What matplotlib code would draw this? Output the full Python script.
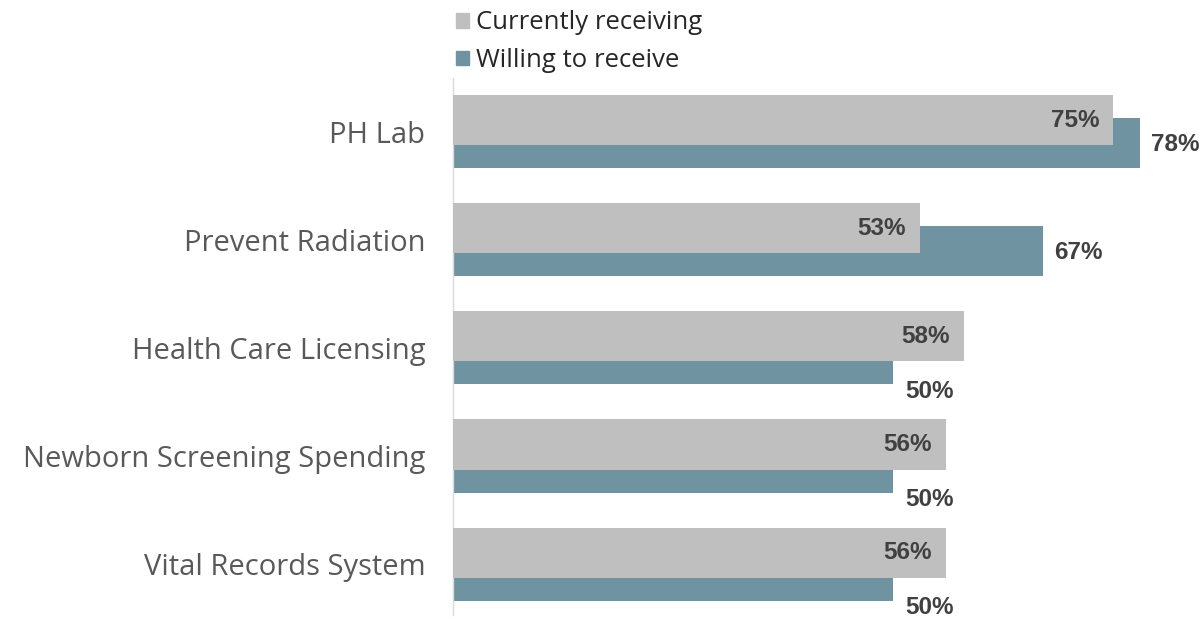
import numpy as np
import matplotlib.pyplot as plt
from matplotlib.patches import Patch

# dati
categories = ['PH Lab', 'Prevent Radiation', 'Health Care Licensing',
              'Newborn Screening Spending', 'Vital Records System']
currently = [75, 53, 58, 56, 56]
willing = [78, 67, 50, 50, 50]
series_names = ['Currently receiving', 'Willing to receive']

GRAY = '#BFBFBF'
TEAL = '#7093A2'
LABEL_COL = '#404040'

plt.rcParams['font.family'] = ['Open Sans', 'DejaVu Sans']

fig = plt.figure(figsize=(12, 6.2), dpi=100)
ax = fig.add_axes([453 / 1200, 1 - 615 / 620, 1 - 453 / 1200 - 0.01, (615 - 78) / 620])

y = np.arange(len(categories))
h = 0.463
off = 0.1065

bars_w = ax.barh(y + off, willing, height=h, color=TEAL, zorder=2)
bars_c = ax.barh(y - off, currently, height=h, color=GRAY, zorder=3)

ax.set_xlim(0, 83.5)
ax.set_ylim(len(categories) - 1 + 0.47, -0.495)

ax.set_yticks(y)
ax.set_yticklabels(categories, fontsize=21, color='#595959')
ax.tick_params(axis='y', length=0, pad=20)
ax.set_xticks([])
for s in ['top', 'right', 'bottom']:
    ax.spines[s].set_visible(False)
ax.spines['left'].set_color('#D9D9D9')
ax.spines['left'].set_linewidth(1)

num_font = dict(family=['Liberation Sans', 'DejaVu Sans'],
                fontsize=17.5, fontweight='bold', color=LABEL_COL)

# etichette dentro la barra grigia
for yi, v in zip(y, currently):
    ax.annotate(f'{v}%', xy=(v, yi - off), xytext=(-10, 0), textcoords='offset points',
                ha='right', va='center', zorder=4, **num_font)

# etichette a destra della barra blu; se la grigia e' piu' lunga scendono sotto
for yi, v, c in zip(y, willing, currently):
    if c > v:
        ax.annotate(f'{v}%', xy=(v, yi + off + h / 2), xytext=(9, -5),
                    textcoords='offset points', ha='left', va='center',
                    annotation_clip=False, **num_font)
    else:
        ax.annotate(f'{v}%', xy=(v, yi + off), xytext=(8, -1),
                    textcoords='offset points', ha='left', va='center',
                    annotation_clip=False, **num_font)

handles = [Patch(color=GRAY), Patch(color=TEAL)]
fig.legend(handles, series_names, loc='upper left', bbox_to_anchor=(450 / 1200, 1 - 4 / 620),
           frameon=False, fontsize=18.5, handlelength=0.5, handleheight=0.5,
           handletextpad=0.25, labelspacing=0.5, borderpad=0.25, borderaxespad=0,
           labelcolor='#262626')

fig.savefig('out.png', dpi=100)
